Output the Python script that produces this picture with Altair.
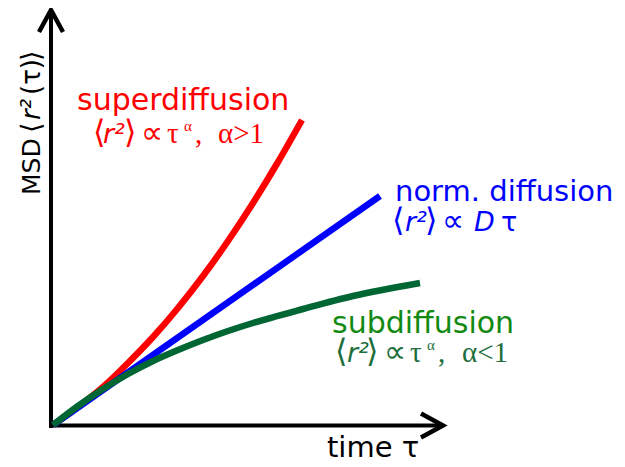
import altair as alt
import pandas as pd

# ---- curve data (x = time, y = MSD, arbitrary units) ----
super_t = [0, 25, 50, 75, 100, 125, 150, 175, 200, 225, 249]
super_msd = [0, 18, 38, 62, 88, 117, 149, 184, 222, 263, 305]
normal_t = [0, 327]
normal_msd = [0, 229]
sub_t = [0, 25, 50, 75, 100, 125, 150, 175, 200, 250, 300, 367]
sub_msd = [0, 19, 36, 51, 64, 75, 85, 94, 102, 116, 129, 142]

series_names = ["superdiffusion", "norm. diffusion", "subdiffusion"]
series_colors = ["#ff0000", "#0000ff", "#006633"]

# axis extents (data units) and arrow head size
x_axis_end = 390
y_axis_end = 415
head_len = 22
head_half = 12

# ---- label pieces: (text, x, y, font, size, style, color, angle) in data units ----
SANS = "DejaVu Sans"
SERIF = "Liberation Serif"
RED, BLUE, GTXT, GFORM = "#ff0000", "#0000ff", "#128a12", "#1d6e3c"
labels = [
    ("superdiffusion", 24, 315, SANS, 30, "normal", RED, 0),
    ("⟨", 40, 282, SANS, 32, "normal", RED, 0),
    ("r²", 50, 282, SANS, 27, "italic", RED, 0),
    ("⟩", 71, 282, SANS, 32, "normal", RED, 0),
    ("∝", 88, 282, SANS, 31, "normal", RED, 0),
    ("τ", 114, 282, SERIF, 29, "normal", RED, 0),
    ("α", 131, 294, SERIF, 15, "normal", RED, 0),
    (",", 142, 282, SERIF, 29, "normal", RED, 0),
    ("α>1", 165, 282, SERIF, 29, "normal", RED, 0),

    ("norm. diffusion", 342, 224, SANS, 29, "normal", BLUE, 0),
    ("⟨", 339, 194, SANS, 32, "normal", BLUE, 0),
    ("r²", 352, 194, SANS, 27, "italic", BLUE, 0),
    ("⟩", 372, 194, SANS, 32, "normal", BLUE, 0),
    ("∝", 389, 194, SANS, 31, "normal", BLUE, 0),
    ("D", 421, 194, SANS, 27, "italic", BLUE, 0),
    ("τ", 448, 194, SANS, 27, "normal", BLUE, 0),

    ("subdiffusion", 279, 92, SANS, 30, "normal", GTXT, 0),
    ("⟨", 282, 63, SANS, 32, "normal", GFORM, 0),
    ("r²", 294, 63, SANS, 27, "italic", GFORM, 0),
    ("⟩", 313, 63, SANS, 32, "normal", GFORM, 0),
    ("∝", 331, 63, SANS, 31, "normal", GFORM, 0),
    ("τ", 357, 63, SERIF, 29, "normal", GFORM, 0),
    ("α", 374, 75, SERIF, 15, "normal", GFORM, 0),
    (",", 385, 63, SERIF, 29, "normal", GFORM, 0),
    ("α<1", 409, 63, SERIF, 29, "normal", GFORM, 0),

    ("time τ", 274, -32, SANS, 29, "normal", "#000000", 0),

    ("MSD", -13, 230, SANS, 25, "normal", "#000000", 270),
    ("⟨", -13, 292, SANS, 27, "normal", "#000000", 270),
    ("r²", -13, 305, SANS, 26, "italic", "#000000", 270),
    ("(τ)", -13, 330, SANS, 26, "normal", "#000000", 270),
    ("⟩", -13, 364, SANS, 27, "normal", "#000000", 270),
]

# ---- scales: data units map 1:1 to pixels ----
W, H = 609, 451
xs = alt.Scale(domain=[-45, W - 45], nice=False, zero=False)
ys = alt.Scale(domain=[417 - H, 417], nice=False, zero=False)

def X(f="x"):
    return alt.X(f"{f}:Q", scale=xs, axis=None)

def Y(f="y"):
    return alt.Y(f"{f}:Q", scale=ys, axis=None)

rows = []
for name, ts, ms in [(series_names[0], super_t, super_msd),
                     (series_names[1], normal_t, normal_msd),
                     (series_names[2], sub_t, sub_msd)]:
    for t, m in zip(ts, ms):
        rows.append({"series": name, "x": t, "y": m})
curves_df = pd.DataFrame(rows)

curves = alt.Chart(curves_df).mark_line(
    strokeWidth=6.5, interpolate="monotone", strokeCap="butt"
).encode(
    x=X(), y=Y(),
    color=alt.Color("series:N", scale=alt.Scale(domain=series_names, range=series_colors), legend=None),
    detail="series:N",
)

axes_df = pd.DataFrame([
    {"x": -2, "y": -3, "x2": -2, "y2": y_axis_end},
    {"x": -3, "y": -0.5, "x2": x_axis_end, "y2": -0.5},
])
axes = alt.Chart(axes_df).mark_rule(strokeWidth=4, color="black").encode(
    x=X(), y=Y(), x2="x2:Q", y2="y2:Q"
)

heads_df = pd.DataFrame([
    {"id": "y", "o": 0, "x": -2 - head_half, "y": y_axis_end - head_len},
    {"id": "y", "o": 1, "x": -2, "y": y_axis_end},
    {"id": "y", "o": 2, "x": -2 + head_half, "y": y_axis_end - head_len},
    {"id": "x", "o": 0, "x": x_axis_end - head_len, "y": -0.5 + head_half},
    {"id": "x", "o": 1, "x": x_axis_end, "y": -0.5},
    {"id": "x", "o": 2, "x": x_axis_end - head_len, "y": -0.5 - head_half},
])
heads = alt.Chart(heads_df).mark_line(
    strokeWidth=4.5, color="black", strokeJoin="miter", strokeCap="butt"
).encode(x=X(), y=Y(), detail="id:N", order="o:Q")

layers = [axes, heads, curves]
for (txt, lx, ly, font, size, style, color, angle) in labels:
    df = pd.DataFrame([{"x": lx, "y": ly, "t": txt}])
    layers.append(
        alt.Chart(df).mark_text(
            align="left", baseline="alphabetic", font=font, fontSize=size,
            fontStyle=style, color=color, angle=angle
        ).encode(x=X(), y=Y(), text="t:N")
    )

chart = alt.layer(*layers).properties(
    width=W, height=H, padding=0, autosize="none"
).configure_view(stroke=None)

chart.save("out.html", embed_options={"renderer": "svg", "actions": False})
